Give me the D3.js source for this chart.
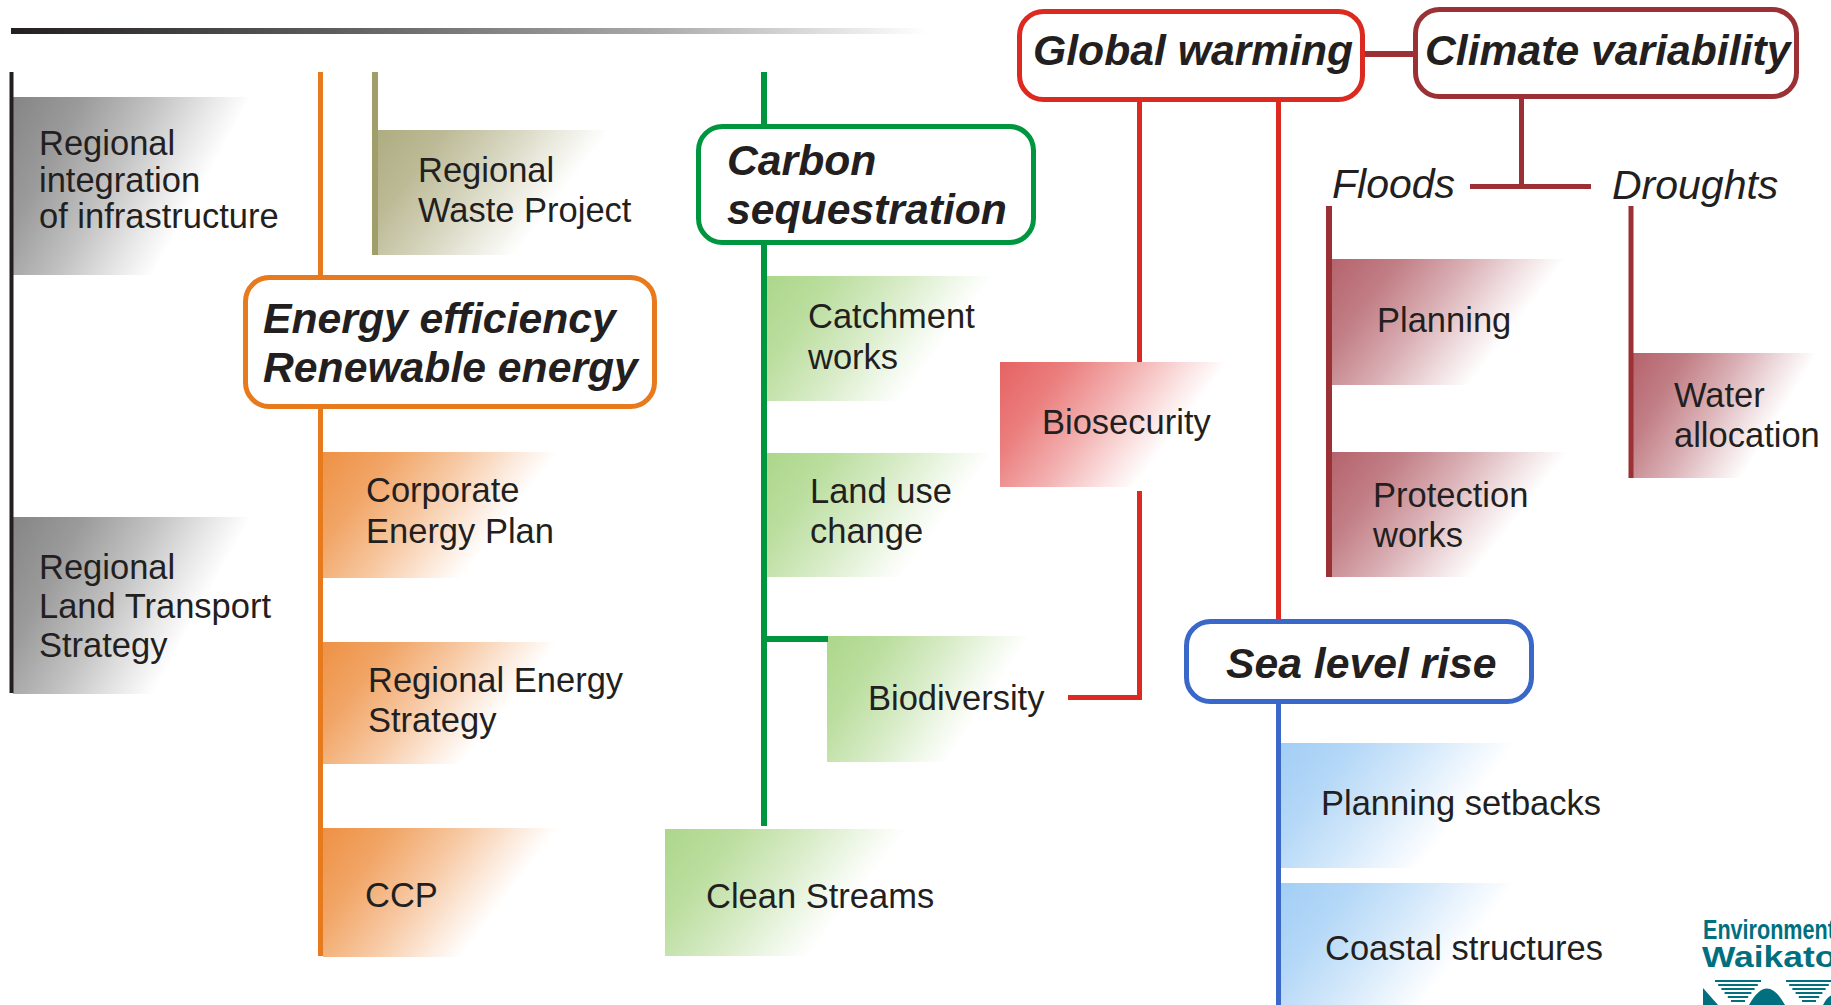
<!DOCTYPE html>
<html>
<head>
<meta charset="utf-8">
<script src="https://cdn.jsdelivr.net/npm/d3@7"></script>
<style>
  html, body { margin: 0; padding: 0; background: #fff; }
  svg { display: block; }
  text { font-family: "Liberation Sans", Arial, Helvetica, sans-serif; fill: #231f20; }
</style>
</head>
<body>
<div id="chart"></div>
<script>
// ---- content ----
const headings = ['Global warming', 'Climate variability', 'Carbon\nsequestration', 'Energy efficiency\nRenewable energy', 'Sea level rise'];
const headingThemes = ['red', 'maroon', 'green', 'orange', 'blue'];

const hazards = ['Floods', 'Droughts'];

const actions = [
  'Regional\nintegration\nof infrastructure', 'Regional\nLand Transport\nStrategy',
  'Regional\nWaste Project',
  'Corporate\nEnergy Plan', 'Regional Energy\nStrategy', 'CCP',
  'Catchment\nworks', 'Land use\nchange', 'Biodiversity', 'Clean Streams',
  'Biosecurity',
  'Planning', 'Protection\nworks', 'Water\nallocation',
  'Planning setbacks', 'Coastal structures'
];
const actionThemes = [
  'grey', 'grey', 'olive', 'orange', 'orange', 'orange',
  'green', 'green', 'green', 'green', 'red',
  'maroon', 'maroon', 'maroon', 'blue', 'blue'
];

const logoWords = ['Environment', 'Waikato'];

// ---- styles ----
const palette = {
  grey:   { line: '#231f20', fill: '#858585' },
  olive:  { line: '#a09e6a', fill: '#aeac80' },
  orange: { line: '#e87a1e', fill: '#ee9145' },
  green:  { line: '#00963f', fill: '#acd78a' },
  red:    { line: '#dc2a20', fill: '#e66262' },
  maroon: { line: '#9b3135', fill: '#b5636c' },
  blue:   { line: '#3a68c9', fill: '#a2cef5' }
};
const teal = '#00707f';

// ---- layout (reference frame 1831 x 1005) ----
// heading boxes: [x, y, w, h, textX, firstBaseline]
const headingLayout = [
  [1019.5, 11.5, 343, 88, 1033, 65],
  [1415.5, 9.5, 381, 87, 1425, 65],
  [698.5, 126.5, 335, 116, 727, 175],
  [245.5, 277.5, 409, 129, 263, 333],
  [1186.5, 621.5, 345, 80, 1226, 678]
];
const hazardLayout = [[1332, 198], [1612, 199]];

// action boxes: [x, y, w, h, textX, firstBaseline, lineHeight]
const actionLayout = [
  [13, 97, 284, 178, 39, 155, 36.5],
  [13, 517, 284, 177, 39, 579, 39],
  [378, 130, 277, 125, 418, 182, 40],
  [323, 452, 280, 126, 366, 502, 41],
  [323, 642, 280, 122, 368, 692, 40],
  [323, 828, 280, 129, 365, 907, 40],
  [767, 276, 270, 125, 808, 328, 41],
  [767, 453, 270, 124, 810, 503, 40],
  [827, 636, 242, 126, 868, 710, 40],
  [665, 829, 290, 127, 706, 908, 40],
  [1000, 362, 272, 125, 1042, 434, 40],
  [1332, 259, 278, 126, 1377, 332, 40],
  [1332, 452, 281, 125, 1373, 507, 40],
  [1633, 353, 220, 125, 1674, 407, 40],
  [1281, 743, 281, 125, 1321, 815, 40],
  [1281, 883, 281, 125, 1325, 960, 40]
];

// connector lines: [theme, x1, y1, x2, y2, width]
const stems = [
  ['grey', 11.5, 72, 11.5, 693, 4],
  ['orange', 320.5, 72, 320.5, 956, 5],
  ['olive', 375, 72, 375, 255, 6],
  ['green', 764, 72, 764, 826, 6],
  ['green', 764, 639, 828, 639, 6],
  ['red', 1139.5, 102, 1139.5, 362, 5],
  ['red', 1139.5, 491, 1139.5, 700, 5],
  ['red', 1068, 697.5, 1142, 697.5, 5],
  ['red', 1278.5, 102, 1278.5, 620, 5],
  ['blue', 1278.5, 703, 1278.5, 1005, 5],
  ['maroon', 1365, 54, 1414, 54, 6],
  ['maroon', 1521.5, 98, 1521.5, 187, 5],
  ['maroon', 1470, 186.5, 1591, 186.5, 5],
  ['maroon', 1329, 206, 1329, 577, 6],
  ['maroon', 1631, 206, 1631, 478, 5]
];

const W = 1831, H = 1005;
const x = d3.scaleLinear().domain([0, 1831]).range([0, W]);
const y = d3.scaleLinear().domain([0, 1005]).range([0, H]);

const svg = d3.select('#chart').append('svg')
  .attr('width', W)
  .attr('height', H)
  .attr('viewBox', `0 0 ${W} ${H}`);

const defs = svg.append('defs');

// diagonal fade used by all action boxes
Object.entries(palette).forEach(([key, p]) => {
  const fade = d3.interpolateRgb('#ffffff', p.fill);
  defs.append('linearGradient')
    .attr('id', `fade-${key}`)
    .attr('x1', 0).attr('y1', 0)
    .attr('x2', 0.75).attr('y2', 0.26)
    .selectAll('stop')
    .data([[0, 1], [0.3, 0.82], [0.6, 0.5], [0.85, 0.18], [1, 0]])
    .join('stop')
    .attr('offset', d => d[0])
    .attr('stop-color', d => fade(d[1]));
});

const rule = defs.append('linearGradient').attr('id', 'rule');
rule.selectAll('stop')
  .data([[0, '#231f20'], [0.35, '#5e5c5c'], [0.7, '#a9a9a9'], [1, '#ffffff']])
  .join('stop')
  .attr('offset', d => d[0])
  .attr('stop-color', d => d[1]);

// title rule
svg.append('rect')
  .attr('x', x(11)).attr('y', y(28))
  .attr('width', x(927) - x(11)).attr('height', y(34) - y(28))
  .attr('fill', 'url(#rule)');

// action boxes
const actionG = svg.append('g')
  .selectAll('g')
  .data(actions.map((label, i) => ({ label, theme: actionThemes[i], pos: actionLayout[i] })))
  .join('g');

actionG.append('rect')
  .attr('x', d => x(d.pos[0]))
  .attr('y', d => y(d.pos[1]))
  .attr('width', d => x(d.pos[0] + d.pos[2]) - x(d.pos[0]))
  .attr('height', d => y(d.pos[1] + d.pos[3]) - y(d.pos[1]))
  .attr('fill', d => `url(#fade-${d.theme})`);

actionG.append('text')
  .attr('font-size', 34.5)
  .selectAll('tspan')
  .data(d => d.label.split('\n').map((line, j) => ({ line, j, pos: d.pos })))
  .join('tspan')
  .attr('x', d => x(d.pos[4]))
  .attr('y', d => y(d.pos[5] + d.j * d.pos[6]))
  .text(d => d.line);

// connectors
svg.append('g')
  .selectAll('line')
  .data(stems)
  .join('line')
  .attr('x1', d => x(d[1])).attr('y1', d => y(d[2]))
  .attr('x2', d => x(d[3])).attr('y2', d => y(d[4]))
  .attr('stroke', d => palette[d[0]].line)
  .attr('stroke-width', d => d[5]);

// heading boxes
const headG = svg.append('g')
  .selectAll('g')
  .data(headings.map((label, i) => ({ label, theme: headingThemes[i], pos: headingLayout[i] })))
  .join('g');

headG.append('rect')
  .attr('x', d => x(d.pos[0]))
  .attr('y', d => y(d.pos[1]))
  .attr('width', d => x(d.pos[0] + d.pos[2]) - x(d.pos[0]))
  .attr('height', d => y(d.pos[1] + d.pos[3]) - y(d.pos[1]))
  .attr('rx', 24)
  .attr('fill', '#fff')
  .attr('stroke', d => palette[d.theme].line)
  .attr('stroke-width', 5);

headG.append('text')
  .attr('font-size', 42.7)
  .attr('font-weight', 'bold')
  .attr('font-style', 'italic')
  .selectAll('tspan')
  .data(d => d.label.split('\n').map((line, j) => ({ line, j, pos: d.pos })))
  .join('tspan')
  .attr('x', d => x(d.pos[4]))
  .attr('y', d => y(d.pos[5] + d.j * 48.5))
  .text(d => d.line);

// hazards
svg.append('g')
  .selectAll('text')
  .data(hazards)
  .join('text')
  .attr('x', (d, i) => x(hazardLayout[i][0]))
  .attr('y', (d, i) => y(hazardLayout[i][1]))
  .attr('font-size', 41)
  .attr('font-style', 'italic')
  .text(d => d);

// logo
const logo = svg.append('g').attr('transform', `translate(${x(1703)},0)`);
logo.append('text')
  .attr('transform', `translate(0,${y(939)}) scale(0.8,1)`)
  .attr('font-size', 27)
  .attr('font-weight', 'bold')
  .style('fill', teal)
  .text(logoWords[0]);
logo.append('text')
  .attr('transform', `translate(-1,${y(967)}) scale(1.22,1)`)
  .attr('font-size', 29)
  .attr('font-weight', 'bold')
  .style('fill', teal)
  .text(logoWords[1]);

const stripeGroups = [12, 83];
stripeGroups.forEach(ox => {
  logo.append('g')
    .selectAll('rect')
    .data(d3.range(6))
    .join('rect')
    .attr('x', k => ox + k * 3.2)
    .attr('y', k => y(980 + k * 4))
    .attr('width', k => 46 - k * 6.4)
    .attr('height', 2)
    .attr('fill', teal);
});
logo.append('path')
  .attr('d', `M0,${y(988)} L15,${y(1005)} L0,${y(1005)} Z`)
  .attr('fill', teal);
logo.append('path')
  .attr('d', `M46,${y(1005)} Q64,${y(972)} 82,${y(1005)} Z`)
  .attr('fill', teal);
logo.append('path')
  .attr('d', `M120,${y(1005)} Q130,${y(985)} 140,${y(1005)} Z`)
  .attr('fill', teal);
</script>
</body>
</html>
